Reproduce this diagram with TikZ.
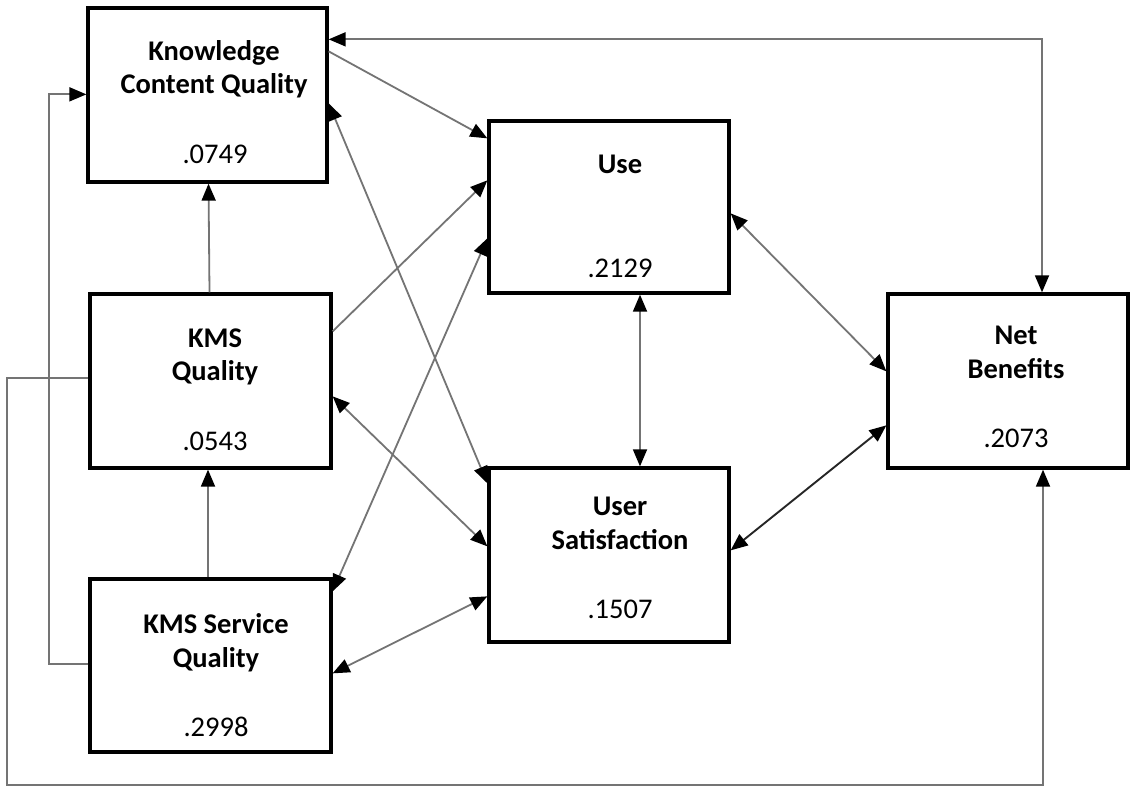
\documentclass[tikz,border=0pt]{standalone}
\usepackage{fontspec}
\setmainfont{Carlito}
\usetikzlibrary{arrows.meta}
\definecolor{linkgray}{HTML}{747474}
\begin{document}
\begin{tikzpicture}[x=1pt,y=-1pt,
  box/.style={draw=black, line width=3.3pt, inner sep=0pt},
  title/.style={font=\bfseries\fontsize{28.5}{33}\selectfont, anchor=base, inner sep=0pt},
  value/.style={font=\fontsize{28.5}{33}\selectfont, anchor=base, inner sep=0pt},
  link/.style={draw=linkgray, line width=1.8pt},
  darklink/.style={draw=black!85, line width=1.9pt},
  >={Triangle[length=17pt,width=14pt,color=black]}]
\fill[white] (0,0) rectangle (1135,792);
\useasboundingbox (0,0) rectangle (1135,792);

% construct boxes
\node[box, minimum width=239pt, minimum height=174pt] (kcq)   at (207.5,95)  {};
\node[box, minimum width=241pt, minimum height=174pt] (kmsq)  at (210.5,381) {};
\node[box, minimum width=241pt, minimum height=173pt] (kmssq) at (210.5,665.5) {};
\node[box, minimum width=240pt, minimum height=172pt] (use)   at (609,207)   {};
\node[box, minimum width=240pt, minimum height=174pt] (us)    at (609,555)   {};
\node[box, minimum width=240pt, minimum height=174pt] (nb)    at (1008,381)  {};

% labels and R-squared values
\node[title] (kcqA) at (214,60)  {Knowledge};
\node[title] (kcqB) at (214,93)  {Content Quality};
\node[value] (kcqV) at (215,163) {.0749};

\node[title] (kmsqA) at (215,347) {KMS};
\node[title] (kmsqB) at (215,380) {Quality};
\node[value] (kmsqV) at (215,450) {.0543};

\node[title] (kmssqA) at (216,633) {KMS Service};
\node[title] (kmssqB) at (216,667) {Quality};
\node[value] (kmssqV) at (216,736) {.2998};

\node[title] (useA) at (620,173) {Use};
\node[value] (useV) at (620,277) {.2129};

\node[title] (usA) at (620,515) {User};
\node[title] (usB) at (620,549) {Satisfaction};
\node[value] (usV) at (620,618) {.1507};

\node[title] (nbA) at (1016,344) {Net};
\node[title] (nbB) at (1016,378) {Benefits};
\node[value] (nbV) at (1016,447) {.2073};

% paths between constructs
\draw[link,<->] ([yshift=-33pt]kcq.north east) -| ([xshift=34pt]nb.north);
\draw[link,->]  ([yshift=-45pt]kcq.north east) -- ([yshift=-19pt]use.north west);
\draw[link,<->] ([yshift=-97pt]kcq.north east) -- ([yshift=-17pt]us.north west);
\draw[link,->]  ([yshift=-39pt]kmsq.north east) -- ([yshift=-61pt]use.north west);
\draw[link,<->] ([yshift=-14pt]kmssq.north east) -- ([yshift=-119pt]use.north west);
\draw[link,<->] ([yshift=-104pt]kmsq.north east) -- ([yshift=-80pt]us.north west);
\draw[link,<->] ([yshift=-96pt]kmssq.north east) -- ([yshift=-130pt]us.north west);
\draw[link,->]  ([xshift=-1pt]kmsq.north) -- ([xshift=1pt]kcq.south);
\draw[link,->]  ([xshift=-2.5pt]kmssq.north) -- ([xshift=-2.5pt]kmsq.south);
\draw[link,->]  ([yshift=-87pt]kmssq.north west) -- ++(-39,0) |- ([yshift=-88pt]kcq.north west);
\draw[link,->]  ([yshift=-86pt]kmsq.north west) -- ++(-81,0) -- ++(0,407) -| ([xshift=35pt]nb.south);
\draw[link,<->] ([yshift=-94pt]use.north east) -- ([yshift=-79pt]nb.north west);
\draw[darklink,<->] ([yshift=-84pt]us.north east) -- ([yshift=-133pt]nb.north west);
\draw[link,<->] ([xshift=31pt]use.south) -- ([xshift=31pt]us.north);
\end{tikzpicture}
\end{document}
